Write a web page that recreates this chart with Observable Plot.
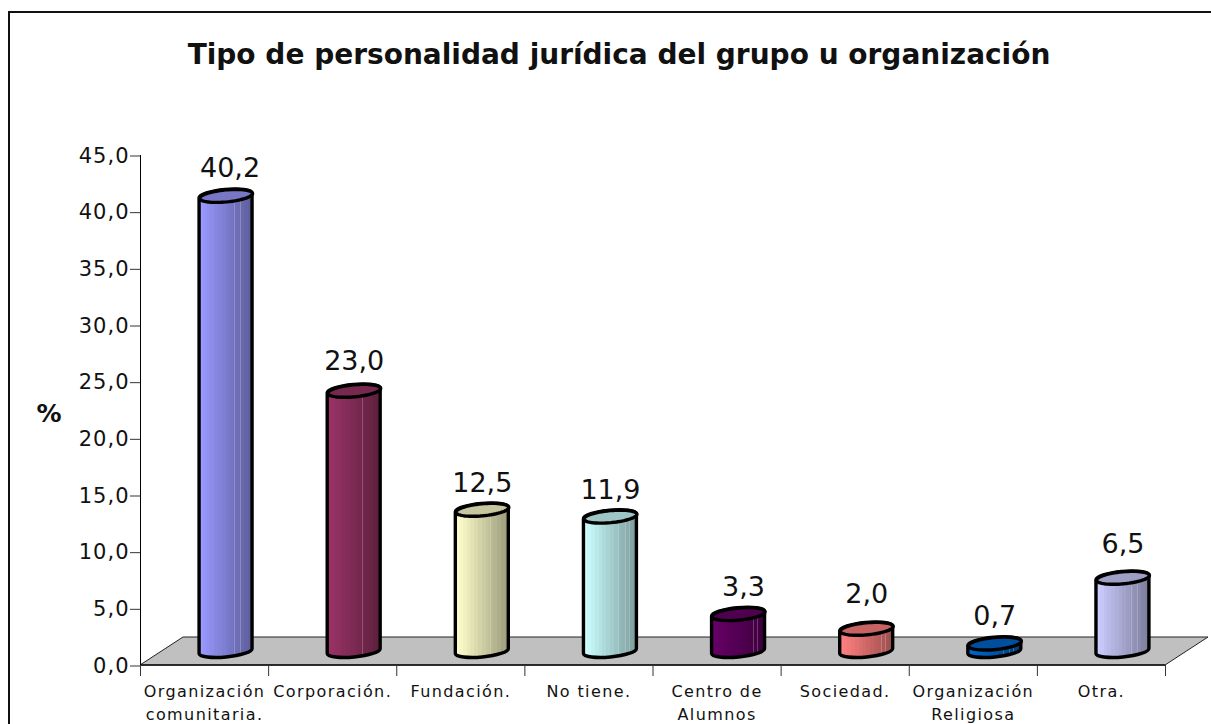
<!DOCTYPE html>
<html><head><meta charset="utf-8">
<style>
html,body{margin:0;padding:0;background:#fff}
#frame{position:relative;width:1211px;height:724px;overflow:hidden}
#edge{position:absolute;left:8px;top:11px;right:-4px;bottom:-4px;border:2px solid #111;pointer-events:none}
#chart{position:absolute;left:0;top:0}
[aria-label="y-axis tick label"]{letter-spacing:1px}
[aria-label="x-axis tick label"]{letter-spacing:1.4px}
</style>
<script src="https://cdn.jsdelivr.net/npm/d3@7"></script>
<script src="https://cdn.jsdelivr.net/npm/@observablehq/plot@0.6"></script>
</head><body><div id="frame"><div id="chart"></div><div id="edge"></div></div>
<script>
const categories = ["Organización\ncomunitaria.","Corporación.","Fundación.","No tiene.","Centro de\nAlumnos","Sociedad.","Organización\nReligiosa","Otra."];
const values = [40.2,23.0,12.5,11.9,3.3,2.0,0.7,6.5];
const labels = ["40,2","23,0","12,5","11,9","3,3","2,0","0,7","6,5"];
const barColors = ["#9999ff","#993366","#ffffcc","#ccffff","#660066","#ff8080","#0066cc","#ccccff"];
const yTicks = [0,5,10,15,20,25,30,35,40,45];
const labelDx = [4,0,0,0,5,0,0,0];
const labelRise = [19,21,18,18,18,26,19,25];

const rows = categories.map((c,i)=>({c,v:values[i],label:labels[i],i}));
const depthX = 43, depthY = 28;
const ca = 26.6, cb = 6, tilt = -5.4*Math.PI/180;
const bandHalf = (1211-140-46)/categories.length/2;
const shade = (c,t)=>d3.interpolateRgb(c,d3.rgb(c).darker(1.45))(t);
const lighten = (c,t)=>d3.interpolateRgb(c,"#fff")(t);

const ellipseSymbol = {draw(ctx,size){
  const a = Math.sqrt(size/Math.PI), b = a*cb/ca;
  for(let k=0;k<=60;k++){
    const t = k/60*2*Math.PI, x=a*Math.cos(t), y=b*Math.sin(t);
    const X = x*Math.cos(tilt)-y*Math.sin(tilt), Y = x*Math.sin(tilt)+y*Math.cos(tilt);
    k?ctx.lineTo(X,Y):ctx.moveTo(X,Y);
  }
  ctx.closePath();
}};

function gradients(){
  const defs = d3.create("svg:defs");
  const stripes=[[.66,.675],[.78,.795],[.86,.87]];
  barColors.forEach((c,i)=>{
    const g = defs.append("linearGradient").attr("id","cyl"+i).attr("x1",0).attr("x2",1).attr("y1",0).attr("y2",0);
    const cuts = [...d3.range(0,15).map(s=>s/14),...stripes.flat()].sort(d3.ascending);
    for(let s=0;s<cuts.length-1;s++){
      const a=cuts[s],b=cuts[s+1];
      const inStripe=stripes.some(([p,q])=>(a+b)/2>p&&(a+b)/2<q);
      const col=inStripe?lighten(shade(c,a),.22):shade(c,a);
      g.append("stop").attr("offset",a).attr("stop-color",col);
      g.append("stop").attr("offset",b).attr("stop-color",col);
    }
  });
  return defs.node();
}

function floor(index,scales,vals,dim){
  const y0 = scales.y(0), l = dim.marginLeft, r = dim.width-dim.marginRight;
  const path = `M${l},${y0}L${l+depthX},${y0-depthY}L${r+depthX},${y0-depthY}L${r},${y0}Z`;
  const g = d3.create("svg:g");
  g.append("path").attr("d",path).attr("fill","#c0c0c0").attr("stroke","#222").attr("stroke-width",1);
  g.append("path").attr("d",`M${l},${y0}L${r},${y0}`).attr("stroke","#111").attr("stroke-width",1.4);
  return g.node();
}

function cylinderRender(index,scales,vals){
  const g = d3.create("svg:g");
  const dx=ca*Math.cos(tilt), dy=-ca*Math.sin(tilt), deg=tilt*180/Math.PI;
  for(const i of index){
    const cx = scales.x(rows[i].c)+bandHalf+depthX/2;
    const top = scales.y(rows[i].v)-depthY/2, base = scales.y(0)-depthY/2;
    const d = `M${cx-dx},${top+dy}L${cx-dx},${base+dy}A${ca},${cb} ${deg} 0 0 ${cx+dx},${base-dy}L${cx+dx},${top-dy}A${ca},${cb} ${deg} 0 0 ${cx-dx},${top+dy}Z`;
    g.append("path").attr("d",d).attr("fill",`url(#cyl${i})`).attr("stroke","#000").attr("stroke-width",3.4).attr("stroke-linejoin","round");
  }
  return g.node();
}

const tickFmt = d=>d.toFixed(1).replace(".",",");
const chart = Plot.plot({
  width:1211,height:724,
  marginLeft:140,marginRight:46,marginTop:155,marginBottom:59,
  style:{background:"transparent",fontFamily:"'DejaVu Sans',sans-serif",color:"#111",overflow:"visible"},
  x:{type:"band",domain:categories,padding:0,round:false,axis:null},
  y:{domain:[0,45],axis:null},
  marks:[
    gradients,
    floor,
    Plot.frame({anchor:"left",stroke:"#000"}),
    Plot.axisY({ticks:yTicks,tickSize:10,tickPadding:1,tickFormat:tickFmt,fontSize:21,label:null,stroke:"#333",dy:0.5}),
    Plot.axisX({ticks:categories,anchor:"bottom",tickSize:11,text:null,label:null,dx:-bandHalf,stroke:"#333"}),
    Plot.axisX({ticks:[categories[categories.length-1]],anchor:"bottom",tickSize:11,text:null,label:null,dx:bandHalf,stroke:"#333"}),
    Plot.axisX({ticks:categories,anchor:"bottom",tickSize:0,tickPadding:0,label:null,fontSize:16,lineHeight:1.4,lineAnchor:"top",dy:16,tickFormat:d=>d}),
    Plot.barY(rows,{x:"c",y:"v",render:cylinderRender}),
    Plot.dot(rows,{x:"c",y:"v",r:ca,symbol:ellipseSymbol,dx:depthX/2,dy:-depthY/2,stroke:"#000",strokeWidth:3.4,
      fill:{value:d=>shade(barColors[d.i],.55),scale:null}}),
    ...rows.map((d,i)=>Plot.text([d],{x:"c",y:"v",text:"label",fontSize:27,fill:"#111",
      dx:depthX/2+labelDx[i],dy:-depthY/2-labelRise[i]-8.6})),
    Plot.text(["Tipo de personalidad jurídica del grupo u organización"],{frameAnchor:"top",dx:-34,dy:-92,fontSize:28,fontWeight:"bold",fill:"#111",lineAnchor:"bottom"}),
    Plot.text(["%"],{frameAnchor:"left",dx:-104,dy:3,fontSize:25,fontWeight:"bold",fill:"#111"})
  ]
});
document.getElementById("chart").appendChild(chart);
</script>
</body></html>
